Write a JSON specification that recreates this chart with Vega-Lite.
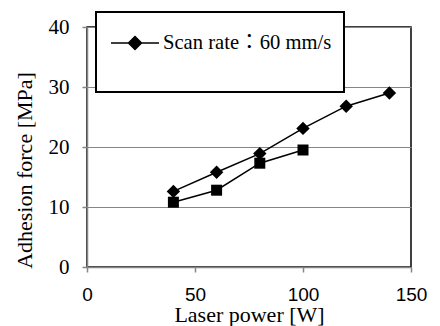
{
  "$schema": "https://vega.github.io/schema/vega-lite/v6.json",
  "width": 324,
  "height": 240,
  "autosize": {"type": "none"},
  "padding": {"left": 87, "top": 27, "right": 29, "bottom": 59},
  "background": "white",
  "data": {
    "values": [
      {"series": "Scan rate：60 mm/s", "power": 40, "force": 12.6},
      {"series": "Scan rate：60 mm/s", "power": 60, "force": 15.8},
      {"series": "Scan rate：60 mm/s", "power": 80, "force": 18.9},
      {"series": "Scan rate：60 mm/s", "power": 100, "force": 23.1},
      {"series": "Scan rate：60 mm/s", "power": 120, "force": 26.8},
      {"series": "Scan rate：60 mm/s", "power": 140, "force": 29.0},
      {"series": "B", "power": 40, "force": 10.8},
      {"series": "B", "power": 60, "force": 12.8},
      {"series": "B", "power": 80, "force": 17.3},
      {"series": "B", "power": 100, "force": 19.5}
    ]
  },
  "encoding": {
    "x": {
      "field": "power", "type": "quantitative",
      "scale": {"domain": [0, 150], "nice": false, "zero": false},
      "axis": {
        "values": [0, 50, 100, 150],
        "grid": false,
        "domainColor": "#868686", "domainWidth": 1.5,
        "tickColor": "#868686", "tickWidth": 1.5, "tickSize": 5,
        "labelFont": "Liberation Sans", "labelFontSize": 19, "labelColor": "black",
        "labelPadding": 13, "labelFlush": false, "labelOverlap": false,
        "title": "Laser power [W]",
        "titleFont": "Liberation Serif", "titleFontSize": 22, "titleFontWeight": "normal",
        "titleColor": "black", "titleBaseline": "alphabetic", "titleY": 54, "titleX": 162
      }
    },
    "y": {
      "field": "force", "type": "quantitative",
      "scale": {"domain": [0, 40], "nice": false, "zero": false},
      "axis": {
        "values": [0, 10, 20, 30, 40],
        "grid": true, "gridColor": "#868686", "gridWidth": 1.2,
        "domainColor": "#868686", "domainWidth": 1.5,
        "tickColor": "#868686", "tickWidth": 1.5, "tickSize": 5,
        "labelFont": "Liberation Serif", "labelFontSize": 21, "labelColor": "black",
        "labelPadding": 13,
        "title": "Adhesion force  [MPa]",
        "titleFont": "Liberation Serif", "titleFontSize": 22, "titleFontWeight": "normal",
        "titleColor": "black", "titleBaseline": "alphabetic", "titleAngle": -90,
        "titleX": -56, "titleY": 143
      }
    }
  },
  "layer": [
    {
      "transform": [{"filter": "datum.series == 'Scan rate：60 mm/s'"}],
      "mark": {"type": "line", "color": "black", "strokeWidth": 1.5},
      "encoding": {}
    },
    {
      "transform": [{"filter": "datum.series == 'Scan rate：60 mm/s'"}],
      "mark": {"type": "point", "shape": "diamond", "filled": true, "size": 180, "opacity": 1},
      "encoding": {
        "color": {
          "field": "series", "type": "nominal",
          "scale": {"range": ["black"]},
          "legend": {
            "orient": "none", "legendX": 9, "legendY": -15,
            "title": " ", "titleOrient": "bottom", "titleFontSize": 10, "titlePadding": 16,
            "padding": 12,
            "strokeColor": "black", "fillColor": "white",
            "symbolType": "M-0.889,0H1.778M0.444,-0.361L0.806,0L0.444,0.361L0.083,0Z",
            "symbolSize": 1296,
            "symbolStrokeWidth": 1.5, "symbolStrokeColor": "black", "symbolFillColor": "black",
            "symbolOpacity": 1,
            "labelFont": "Liberation Serif, Noto Sans CJK JP", "labelFontSize": 20.6, "labelColor": "black",
            "labelOffset": 17, "labelLimit": 0,
            "encode": {
              "legend": {"update": {"strokeWidth": {"value": 2}}}
            }
          }
        }
      }
    },
    {
      "transform": [{"filter": "datum.series == 'B'"}],
      "mark": {"type": "line", "color": "black", "strokeWidth": 1.5},
      "encoding": {}
    },
    {
      "transform": [{"filter": "datum.series == 'B'"}],
      "mark": {"type": "point", "shape": "square", "filled": true, "color": "black", "size": 121, "opacity": 1},
      "encoding": {}
    }
  ],
  "config": {
    "view": {"stroke": "black", "strokeWidth": 1.5}
  }
}
